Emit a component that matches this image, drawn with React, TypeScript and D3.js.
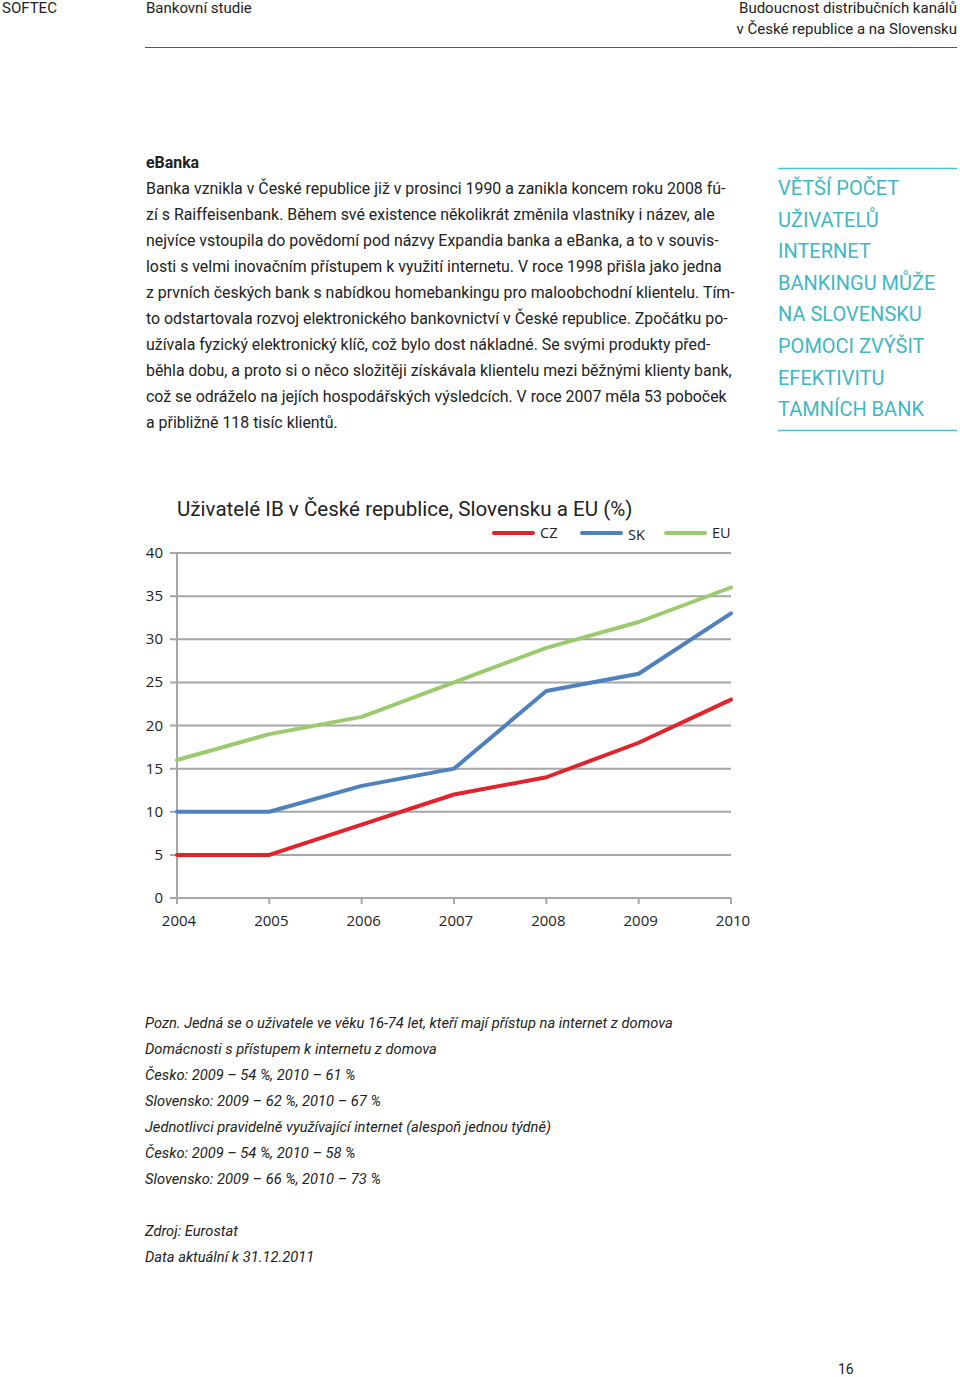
import React from "react";
import * as d3 from "d3";

const years = [2004, 2005, 2006, 2007, 2008, 2009, 2010];
const czValues = [5, 5, 8.5, 12, 14, 18, 23];
const skValues = [10, 10, 13, 15, 24, 26, 33];
const euValues = [16, 19, 21, 25, 29, 32, 36];
const yTicks = [0, 5, 10, 15, 20, 25, 30, 35, 40];
const seriesNames = ["CZ", "SK", "EU"];
const seriesColors = ["#e1242c", "#4f81bd", "#9ccb6d"];

const headerRight = ["Budoucnost distribučních kanálů", "v České republice a na Slovensku"];
const bodyLines = [
  "Banka vznikla v České republice již v prosinci 1990 a zanikla koncem roku 2008 fú-",
  "zí s Raiffeisenbank. Během své existence několikrát změnila vlastníky i název, ale",
  "nejvíce vstoupila do povědomí pod názvy Expandia banka a eBanka, a to v souvis-",
  "losti s velmi inovačním přístupem k využití internetu. V roce 1998 přišla jako jedna",
  "z prvních českých bank s nabídkou homebankingu pro maloobchodní klientelu. Tím-",
  "to odstartovala rozvoj elektronického bankovnictví v České republice. Zpočátku po-",
  "užívala fyzický elektronický klíč, což bylo dost nákladné. Se svými produkty před-",
  "běhla dobu, a proto si o něco složitěji získávala klientelu mezi běžnými klienty bank,",
  "což se odráželo na jejích hospodářských výsledcích. V roce 2007 měla 53 poboček",
  "a přibližně 118 tisíc klientů.",
];
const sideLines = [
  "VĚTŠÍ POČET",
  "UŽIVATELŮ",
  "INTERNET",
  "BANKINGU MŮŽE",
  "NA SLOVENSKU",
  "POMOCI ZVÝŠIT",
  "EFEKTIVITU",
  "TAMNÍCH BANK",
];
const noteLines = [
  "Pozn. Jedná se o uživatele ve věku 16-74 let, kteří mají přístup na internet z domova",
  "Domácnosti s přístupem k internetu z domova",
  "Česko: 2009 – 54 %, 2010 – 61 %",
  "Slovensko: 2009 – 62 %, 2010 – 67 %",
  "Jednotlivci pravidelně využívající internet (alespoň jednou týdně)",
  "Česko: 2009 – 54 %, 2010 – 58 %",
  "Slovensko: 2009 – 66 %, 2010 – 73 %",
];
const sourceLines = ["Zdroj: Eurostat", "Data aktuální k 31.12.2011"];

const FONT = "Roboto, 'Noto Sans', sans-serif";
const TICKFONT = "'Open Sans', sans-serif";

export default function App() {
  const x = d3.scaleLinear().domain([2004, 2010]).range([177, 731]);
  const y = d3.scaleLinear().domain([0, 40]).range([898, 553]);
  const series = [czValues, skValues, euValues];
  const line = d3
    .line<number>()
    .x((_, i) => x(years[i]))
    .y((d) => y(d));

  const legendX = [494, 582, 666];
  const legendLabelDy = [0, 2, 0];

  return (
    <div style={{ position: "absolute", left: 0, top: 0 }}>
      <svg width={960} height={1377} style={{ display: "block" }}>
        <rect x={0} y={0} width={960} height={1377} fill="#fff" />
        {/* Header */}
        <g fontFamily={FONT} fontSize={15} fill="#222">
          <text x={2} y={13}>SOFTEC</text>
          <text x={146} y={13}>Bankovní studie</text>
          <text x={957} y={13} textAnchor="end">{headerRight[0]}</text>
          <text x={957} y={34} textAnchor="end">{headerRight[1]}</text>
        </g>
        <line x1={145} x2={957} y1={47.5} y2={47.5} stroke="#555" strokeWidth={1} />

        {/* Body */}
        <g fontFamily={FONT} fontSize={15.9} fill="#222">
          <text x={146} y={168} fontWeight={700}>eBanka</text>
          {bodyLines.map((t, i) => (
            <text key={i} x={146} y={194 + i * 26}>{t}</text>
          ))}
        </g>

        {/* Sidebar */}
        <line x1={778} x2={957} y1={168.5} y2={168.5} stroke="#4bbfca" strokeWidth={1.5} />
        <g fontFamily={FONT} fontSize={20} fill="#3fb7c4">
          {sideLines.map((t, i) => (
            <text key={i} x={778} y={195 + i * 31.6}>{t}</text>
          ))}
        </g>
        <line x1={778} x2={957} y1={430.5} y2={430.5} stroke="#4bbfca" strokeWidth={1.5} />

        {/* Chart title */}
        <text x={177} y={516} fontFamily={FONT} fontSize={20.6} fill="#222">
          Uživatelé IB v České republice, Slovensku a EU (%)
        </text>

        {/* Legend */}
        <g fontFamily={TICKFONT} fontSize={14.5} fill="#222">
          {seriesNames.map((n, i) => (
            <g key={n}>
              <line x1={legendX[i]} x2={legendX[i] + 39} y1={533} y2={533} stroke={seriesColors[i]} strokeWidth={4} strokeLinecap="round" />
              <text x={legendX[i] + 46} y={538 + legendLabelDy[i]}>{n}</text>
            </g>
          ))}
        </g>

        {/* Grid */}
        {yTicks.filter((t) => t > 0).map((t) => (
          <line key={t} x1={170} x2={731} y1={y(t)} y2={y(t)} stroke="#a6a6a6" strokeWidth={2} />
        ))}
        {/* Axes */}
        <line x1={x(2004)} x2={x(2004)} y1={y(40)} y2={y(0)} stroke="#a6a6a6" strokeWidth={2} />
        <line x1={170} x2={731} y1={y(0)} y2={y(0)} stroke="#a6a6a6" strokeWidth={2} />
        {years.map((yr) => (
          <line key={yr} x1={x(yr)} x2={x(yr)} y1={y(0)} y2={y(0) + 6} stroke="#a6a6a6" strokeWidth={2} />
        ))}

        {/* Tick labels */}
        <g fontFamily={TICKFONT} fontSize={15} fill="#222">
          {yTicks.map((t) => (
            <text key={t} x={163} y={y(t) + 5} textAnchor="end">{t}</text>
          ))}
          {years.map((yr) => (
            <text key={yr} x={x(yr) + 2} y={926} textAnchor="middle">{yr}</text>
          ))}
        </g>

        {/* Lines */}
        {series.map((s, i) => (
          <path key={i} d={line(s) || ""} fill="none" stroke={seriesColors[i]} strokeWidth={4} strokeLinejoin="round" strokeLinecap="round" />
        ))}

        {/* Notes */}
        <g fontFamily={FONT} fontSize={14.7} fontStyle="italic" fill="#222">
          {noteLines.map((t, i) => (
            <text key={i} x={145} y={1028 + i * 26}>{t}</text>
          ))}
          {sourceLines.map((t, i) => (
            <text key={"s" + i} x={145} y={1236 + i * 26}>{t}</text>
          ))}
        </g>

        <text x={838} y={1374} fontFamily={FONT} fontSize={14} fill="#222">16</text>
      </svg>
    </div>
  );
}
